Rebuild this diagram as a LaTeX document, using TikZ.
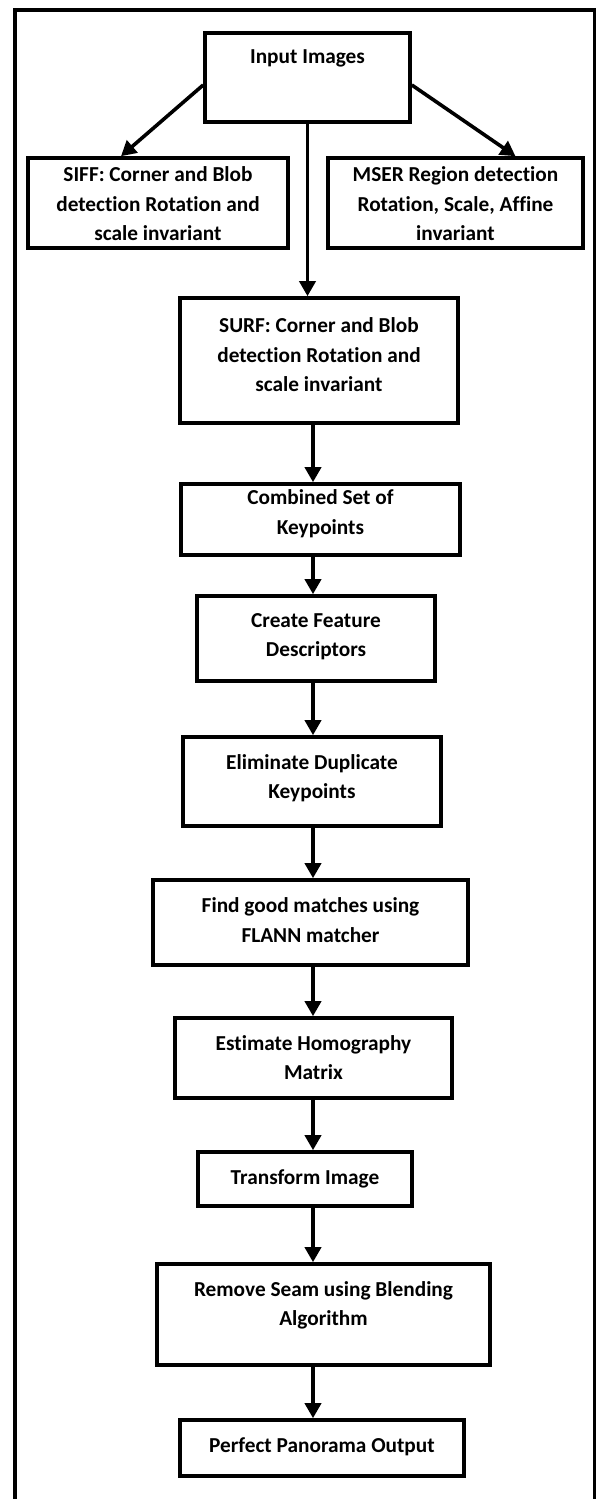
\documentclass[tikz,border=0pt]{standalone}
\usepackage{fontspec}
\setmainfont{Carlito}[Ligatures=NoCommon]
\usetikzlibrary{arrows.meta,calc}
\begin{document}
\begin{tikzpicture}[x=1pt,y=-1pt,
  box/.style={draw,line width=3.6pt,inner sep=0pt},
  txt/.style={align=center,inner sep=0pt,font=\fontsize{21.3}{29.5}\selectfont\bfseries},
  arr/.style={line width=3.6pt,-{Triangle[length=15pt,width=16pt]}},
  frame/.style={line width=4pt}]
\useasboundingbox (0,0) rectangle (595,1499);
\draw[frame] (15,1499) -- (15,10) -- (595,10) -- (595,1499);
% boxes
\node[box,minimum width=205pt,minimum height=89pt] (inp) at (307.5,77.5) {};
\node[txt] (inpT) at (307.5,58) {Input Images};
\node[box,minimum width=260pt,minimum height=90pt] (siff) at (158,203) {};
\node[txt] (siffT) at (158,204) {SIFF: Corner and Blob\\detection Rotation and\\scale invariant};
\node[box,minimum width=255pt,minimum height=90pt] (mser) at (455.5,203) {};
\node[txt] (mserT) at (455.5,204) {MSER Region detection\\Rotation, Scale, Affine\\invariant};
\node[box,minimum width=278pt,minimum height=125pt] (surf) at (319,360.5) {};
\node[txt] (surfT) at (319,355) {SURF: Corner and Blob\\detection Rotation and\\scale invariant};
\node[box,minimum width=279pt,minimum height=71pt] (comb) at (320.5,519.5) {};
\node[txt] (combT) at (320.5,513.5) {Combined Set of\\Keypoints};
\node[box,minimum width=238pt,minimum height=85pt] (feat) at (316,638.5) {};
\node[txt] (featT) at (316,636.5) {Create Feature\\Descriptors};
\node[box,minimum width=258pt,minimum height=89pt] (elim) at (312,781.5) {};
\node[txt] (elimT) at (312,778) {Eliminate Duplicate\\Keypoints};
\node[box,minimum width=315pt,minimum height=85pt] (find) at (310.5,922.5) {};
\node[txt] (findT) at (310.5,920) {Find good matches using\\FLANN matcher};
\node[box,minimum width=277pt,minimum height=80pt] (est) at (313.5,1058) {};
\node[txt] (estT) at (313.5,1057.5) {Estimate Homography\\Matrix};
\node[box,minimum width=214pt,minimum height=54pt] (trans) at (305,1179) {};
\node[txt] (transT) at (305,1179) {Transform Image};
\node[box,minimum width=333pt,minimum height=101pt] (seam) at (323.5,1314.5) {};
\node[txt] (seamT) at (323.5,1305.5) {Remove Seam using Blending\\Algorithm};
\node[box,minimum width=284pt,minimum height=56pt] (perf) at (322,1448) {};
\node[txt] (perfT) at (322,1447) {Perfect Panorama Output};
% connectors
\coordinate (ax) at (313,0);
\draw[arr] ($(inp.west)+(0,7.5)$) -- ($(siff.north)+(-37,0)$);
\draw[arr] ($(inp.east)+(0,7.5)$) -- ($(mser.north)+(60,0)$);
\draw[arr] (inp.south) -- (inp.south |- surf.north);
\draw[arr] (surf.south -| ax) -- (comb.north -| ax);
\draw[arr] (comb.south -| ax) -- (feat.north -| ax);
\draw[arr] (feat.south -| ax) -- (elim.north -| ax);
\draw[arr] (elim.south -| ax) -- (find.north -| ax);
\draw[arr] (find.south -| ax) -- (est.north -| ax);
\draw[arr] (est.south -| ax) -- (trans.north -| ax);
\draw[arr] (trans.south -| ax) -- (seam.north -| ax);
\draw[arr] (seam.south -| ax) -- (perf.north -| ax);
\end{tikzpicture}
\end{document}
